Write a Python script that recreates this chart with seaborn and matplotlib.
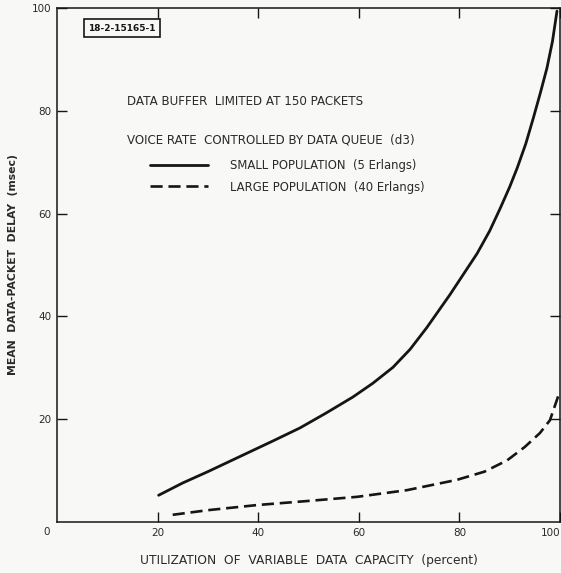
import matplotlib
matplotlib.use("Agg")
import matplotlib.pyplot as plt
import seaborn as sns
import pandas as pd

# ---- data ----
small_x = [20.2, 25, 30, 37.8, 43, 48.3, 53.5, 58.8, 62.8, 66.8, 70.2, 73.5, 78.1,
           81, 83.5, 86, 88.1, 90, 91.5, 93.2, 94.7, 96.1, 97.4, 98.5, 99.4]
small_y = [5.2, 7.6, 9.8, 13.4, 15.8, 18.3, 21.2, 24.3, 27.0, 30.1, 33.6, 37.8, 44.2,
           48.5, 52.2, 56.6, 61.0, 65.2, 68.9, 73.6, 78.6, 83.5, 88.3, 93.5, 99.4]
large_x = [23, 30, 39.8, 50, 59.7, 69.6, 79.5, 85, 89.5, 93, 96, 98, 100]
large_y = [1.4, 2.3, 3.3, 4.1, 4.9, 6.2, 8.2, 9.8, 12.0, 14.6, 17.3, 19.8, 25.5]
series_labels = ["SMALL POPULATION  (5 Erlangs)", "LARGE POPULATION  (40 Erlangs)"]
x_ticks = [20, 40, 60, 80, 100]
y_ticks = [20, 40, 60, 80, 100]
x_label = "UTILIZATION  OF  VARIABLE  DATA  CAPACITY  (percent)"
y_label = "MEAN  DATA-PACKET  DELAY  (msec)"
note1 = "DATA BUFFER  LIMITED AT 150 PACKETS"
note2 = "VOICE RATE  CONTROLLED BY DATA QUEUE  (d3)"
fig_id = "18-2-15165-1"

sns.set_theme(style="ticks")
plt.rcParams["font.family"] = ["DejaVu Sans"]
ink = "#151515"
txt = "#2a2a2a"
bg = "#f8f8f6"

fig = plt.figure(figsize=(5.61, 5.73), dpi=100, facecolor=bg)
ax = fig.add_axes([57 / 561, 51 / 573, 503 / 561, 514 / 573])
ax.set_facecolor(bg)

df_s = pd.DataFrame({"x": small_x, "y": small_y})
df_l = pd.DataFrame({"x": large_x, "y": large_y})
sns.lineplot(data=df_s, x="x", y="y", ax=ax, color=ink, lw=2.0,
             label=series_labels[0], sort=True)
sns.lineplot(data=df_l, x="x", y="y", ax=ax, color=ink, lw=1.9,
             label=series_labels[1], sort=True)
ax.lines[1].set_dashes((4.6, 2.2))
for ln in ax.lines:
    ln.set_solid_joinstyle("round")
    ln.set_dash_joinstyle("round")

ax.set_xlim(0, 100)
ax.set_ylim(0, 100)
ax.set_xticks(x_ticks)
ax.set_yticks(y_ticks)
ax.set_xticklabels([str(v) for v in x_ticks])
ax.set_yticklabels([str(v) for v in y_ticks])
ax.tick_params(axis="both", direction="in", length=7, width=1, color=ink,
               labelsize=7.5, labelcolor=txt, top=True, right=True, pad=4)
ax.get_xticklabels()[-1].set_horizontalalignment("right")
for s in ax.spines.values():
    s.set_color(ink)
    s.set_linewidth(1.1)

ax.set_xlabel(x_label, fontsize=8.8, color=txt, labelpad=12)
ax.set_ylabel(y_label, fontsize=7.8, color=txt, labelpad=10, fontweight="bold")

ax.text(-1.5, -1.0, "0", fontsize=7.5, color=txt, ha="right", va="top")

ax.text(14.0, 81.9, note1, fontsize=8.6, color=txt, ha="left", va="center")
ax.text(14.0, 74.3, note2, fontsize=8.6, color=txt, ha="left", va="center")

ax.text(12.9, 96.1, fig_id, fontsize=6.5, color=ink, ha="center", va="center",
        fontweight="bold",
        bbox=dict(boxstyle="square,pad=0.5", fc="none", ec=ink, lw=1.2))

leg = ax.legend(loc="upper left", bbox_to_anchor=(0.165, 0.727), frameon=False,
                fontsize=8.4, handlelength=4.9, handletextpad=1.9,
                labelspacing=0.75)
for t in leg.get_texts():
    t.set_color(txt)

fig.savefig("out.png", dpi=100, facecolor=bg)
